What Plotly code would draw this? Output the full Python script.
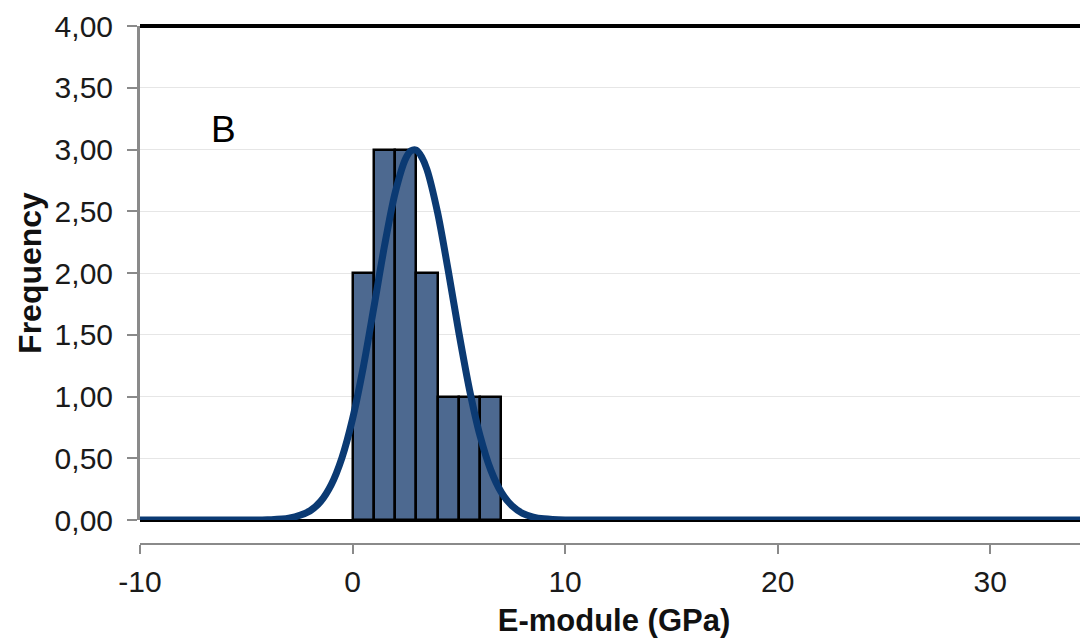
import plotly.graph_objects as go

# Histogram bins (E-module, GPa) and frequencies
bin_centers = [0.5, 1.5, 2.5, 3.5, 4.5, 5.5, 6.5]
frequencies = [2, 3, 3, 2, 1, 1, 1]

# Fitted normal curve
curve_x = [-10, -6, -4, -3, -2, -1.5, -1, -0.5, 0, 0.5, 1, 1.5, 2, 2.5, 2.75, 3.0,
           3.25, 3.5, 4, 4.5, 5, 5.5, 6, 6.5, 7, 7.5, 8, 8.5, 9, 10, 12, 20, 34.6]
curve_y = [0, 0, 0.002, 0.014, 0.074, 0.151, 0.287, 0.504, 0.819, 1.233, 1.719,
           2.217, 2.647, 2.927, 2.99, 2.995, 2.94, 2.838, 2.489, 2.021, 1.519, 1.057,
           0.681, 0.406, 0.224, 0.115, 0.054, 0.024, 0.010, 0.001, 0, 0, 0]

x_ticks = [-10, 0, 10, 20, 30]
x_tick_labels = ["-10", "0", "10", "20", "30"]
y_ticks = [0, 0.5, 1, 1.5, 2, 2.5, 3, 3.5, 4]

FONT = "Liberation Sans, Arial, sans-serif"

fig = go.Figure()
fig.add_trace(go.Bar(
    x=bin_centers, y=frequencies, width=1,
    marker=dict(color="#4D6990", line=dict(color="#000000", width=2.5)),
    showlegend=False,
))
fig.add_trace(go.Scatter(
    x=curve_x, y=curve_y, mode="lines",
    line=dict(color="#0B3A73", width=7, shape="spline", smoothing=0.8),
    showlegend=False,
))

fig.update_layout(
    width=1080, height=635,
    margin=dict(l=132, r=0, t=18, b=99),
    paper_bgcolor="white", plot_bgcolor="white",
    separators=", ",
    font=dict(family=FONT, size=30, color="#1a1a1a"),
    bargap=0,
    xaxis=dict(
        range=[-10, 34.6], tickvals=x_ticks, ticktext=x_tick_labels,
        showgrid=False, zeroline=False, automargin=False,
        showline=True, linecolor="#8a8a8a", linewidth=2,
        ticks="outside", ticklen=9, tickcolor="#8a8a8a", tickwidth=2,
        anchor="free", position=0, ticklabelstandoff=2,
        title=dict(text="<b>E-module (GPa)</b>", font=dict(family=FONT, size=31, color="#111"), standoff=11),
    ),
    yaxis=dict(
        range=[0, 4], tickvals=y_ticks, tickformat=".2f",
        domain=[0.0463, 1], automargin=False,
        showgrid=True, gridcolor="#E6E6E6", gridwidth=1,
        zeroline=True, zerolinecolor="#000000", zerolinewidth=3,
        showline=True, linecolor="#8a8a8a", linewidth=3,
        ticks="outside", ticklen=10, tickcolor="#8a8a8a", tickwidth=2,
        ticklabelstandoff=8,
        title=dict(text="<b>Frequency</b>", font=dict(family=FONT, size=32, color="#111"), standoff=4),
    ),
    shapes=[dict(type="line", xref="paper", yref="paper", x0=0, x1=1, y0=1, y1=1,
                 line=dict(color="#000000", width=4), layer="above")],
    annotations=[dict(x=-6.06, y=3.16, xref="x", yref="y", text="B", showarrow=False,
                      font=dict(family=FONT, size=37, color="#000"))],
)

fig.write_html("out.html")
